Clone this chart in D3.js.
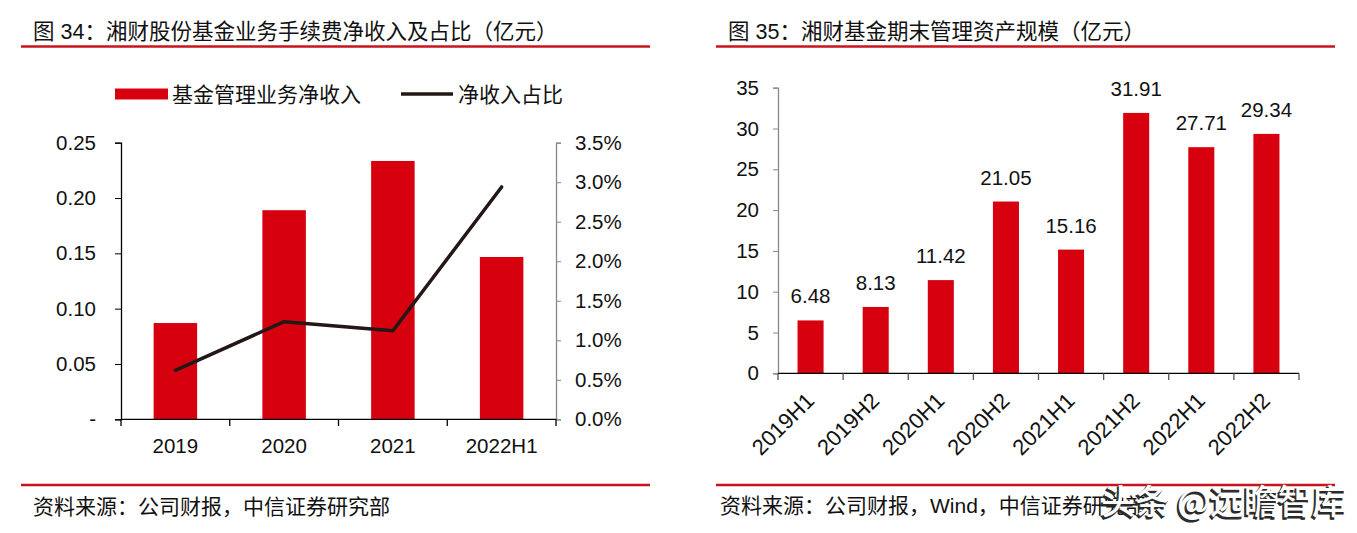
<!DOCTYPE html>
<html><head><meta charset="utf-8">
<script src="https://cdn.jsdelivr.net/npm/d3@7"></script>
<style>
html,body{margin:0;padding:0;background:#fff;}
svg{display:block;font-family:"Liberation Sans",Arial,"Noto Sans CJK SC",sans-serif;}
</style></head>
<body>
<svg id="c" width="1357" height="533"></svg>
<script>
// ---- Data: chart 1 ----
const cats1 = ["2019","2020","2021","2022H1"];
const income = [0.087,0.189,0.2335,0.1467];
const share = [0.0062,0.01235,0.0112,0.0294];
const leftTicks = [0,0.05,0.10,0.15,0.20,0.25];
const leftTickLabels = ["-","0.05","0.10","0.15","0.20","0.25"];
const rightTicks = [0,0.005,0.01,0.015,0.02,0.025,0.03,0.035];
const rightTickLabels = ["0.0%","0.5%","1.0%","1.5%","2.0%","2.5%","3.0%","3.5%"];
// ---- Data: chart 2 ----
const cats2 = ["2019H1","2019H2","2020H1","2020H2","2021H1","2021H2","2022H1","2022H2"];
const aum = [6.48,8.13,11.42,21.05,15.16,31.91,27.71,29.34];
const aumLabels = ["6.48","8.13","11.42","21.05","15.16","31.91","27.71","29.34"];
const aumTicks = [0,5,10,15,20,25,30,35];

const RED = "#D7000F", LINE = "#231815", TXT = "#111", RULE = "#C8141E";
const svg = d3.select("#c");

function header(x0, x1, title) {
  svg.append("text").attr("x", x0 + 12).attr("y", 39).attr("font-size", 21.5).attr("fill", TXT).text(title);
  svg.append("line").attr("x1", x0).attr("x2", x1).attr("y1", 46.5).attr("y2", 46.5).attr("stroke", RULE).attr("stroke-width", 2.5);
  svg.append("line").attr("x1", x0).attr("x2", x1).attr("y1", 485).attr("y2", 485).attr("stroke", RULE).attr("stroke-width", 2.5);
}

// ================= Chart 1 =================
header(21, 650, "图 34：湘财股份基金业务手续费净收入及占比（亿元）");
svg.append("text").attr("x", 33).attr("y", 514).attr("font-size", 21).attr("fill", TXT).text("资料来源：公司财报，中信证券研究部");

const x1 = d3.scaleBand().domain(cats1).range([121, 556]).paddingInner(0.6).paddingOuter(0.3);
const yL = d3.scaleLinear().domain([0, 0.25]).range([419.3, 142.7]);
const yR = d3.scaleLinear().domain([0, 0.035]).range([419.3, 142.7]);

svg.append("g").selectAll("rect").data(cats1).join("rect")
  .attr("x", d => x1(d)).attr("width", x1.bandwidth())
  .attr("y", (d, i) => yL(income[i])).attr("height", (d, i) => yL(0) - yL(income[i]))
  .attr("fill", RED);

// left axis
const gL = svg.append("g").attr("transform", "translate(121,0)")
  .call(d3.axisLeft(yL).tickValues(leftTicks).tickSize(6).tickPadding(19).tickFormat((d, i) => leftTickLabels[i]));
gL.select(".domain").attr("stroke", "#000").attr("stroke-width", 1.3);
gL.selectAll(".tick line").attr("stroke", "#000");
gL.selectAll("text").attr("font-size", 20.5).attr("fill", TXT).attr("font-family", "Liberation Sans, Arial");

// right axis
const gR = svg.append("g").attr("transform", "translate(556,0)")
  .call(d3.axisRight(yR).tickValues(rightTicks).tickSize(5).tickPadding(14).tickFormat((d, i) => rightTickLabels[i]));
gR.select(".domain").attr("stroke", "#888").attr("stroke-width", 1.3);
gR.selectAll(".tick line").attr("stroke", "#888");
gR.selectAll("text").attr("font-size", 20.5).attr("fill", TXT).attr("font-family", "Liberation Sans, Arial");

// bottom axis
const step1 = x1.step();
const bounds1 = d3.range(cats1.length + 1).map(i => x1(cats1[0]) - step1 * 0.3 + i * step1);
const gB = svg.append("g");
gB.append("line").attr("x1", 121).attr("x2", 556).attr("y1", 419.3).attr("y2", 419.3).attr("stroke", "#000").attr("stroke-width", 1.3);
gB.selectAll("line.t").data(bounds1).join("line").attr("class", "t")
  .attr("x1", d => d).attr("x2", d => d).attr("y1", 419.3).attr("y2", 426).attr("stroke", "#000").attr("stroke-width", 1.3);
gB.selectAll("text").data(cats1).join("text")
  .attr("x", d => x1(d) + x1.bandwidth() / 2).attr("y", 452.5).attr("text-anchor", "middle")
  .attr("font-size", 20.5).attr("fill", TXT).text(d => d);

// line
const line = d3.line().x((d, i) => x1(cats1[i]) + x1.bandwidth() / 2).y(d => yR(d));
svg.append("path").datum(share).attr("d", line).attr("fill", "none")
  .attr("stroke", LINE).attr("stroke-width", 3.5).attr("stroke-linecap", "round").attr("stroke-linejoin", "round");

// legend
svg.append("rect").attr("x", 115).attr("y", 88.5).attr("width", 53).attr("height", 11).attr("fill", RED);
svg.append("text").attr("x", 172).attr("y", 101.5).attr("font-size", 21).attr("fill", TXT).text("基金管理业务净收入");
svg.append("line").attr("x1", 401).attr("x2", 453).attr("y1", 94).attr("y2", 94).attr("stroke", LINE).attr("stroke-width", 3.5);
svg.append("text").attr("x", 458).attr("y", 101.5).attr("font-size", 21).attr("fill", TXT).text("净收入占比");

// ================= Chart 2 =================
header(716, 1335, "图 35：湘财基金期末管理资产规模（亿元）");
svg.append("text").attr("x", 720).attr("y", 513).attr("font-size", 21).attr("fill", TXT).text("资料来源：公司财报，Wind，中信证券研究部");

const x2 = d3.scaleBand().domain(cats2).range([778, 1299]).paddingInner(0.6).paddingOuter(0.3);
const y2 = d3.scaleLinear().domain([0, 35]).range([373.3, 87.7]);

svg.append("g").selectAll("rect").data(cats2).join("rect")
  .attr("x", d => x2(d)).attr("width", x2.bandwidth())
  .attr("y", (d, i) => y2(aum[i])).attr("height", (d, i) => y2(0) - y2(aum[i]))
  .attr("fill", RED);

svg.append("g").selectAll("text").data(cats2).join("text")
  .attr("x", d => x2(d) + x2.bandwidth() / 2).attr("y", (d, i) => y2(aum[i]) - 17)
  .attr("text-anchor", "middle").attr("font-size", 20.5).attr("fill", TXT).text((d, i) => aumLabels[i]);

const g2L = svg.append("g").attr("transform", "translate(778,0)")
  .call(d3.axisLeft(y2).tickValues(aumTicks).tickSize(5).tickPadding(14));
g2L.select(".domain").attr("stroke", "#888").attr("stroke-width", 1.3);
g2L.selectAll(".tick line").attr("stroke", "#888");
g2L.selectAll("text").attr("font-size", 20.5).attr("fill", TXT).attr("font-family", "Liberation Sans, Arial");

const step2 = x2.step();
const bounds2 = d3.range(cats2.length + 1).map(i => x2(cats2[0]) - step2 * 0.3 + i * step2);
const g2B = svg.append("g");
g2B.append("line").attr("x1", 778).attr("x2", 1299).attr("y1", 373.3).attr("y2", 373.3).attr("stroke", "#000").attr("stroke-width", 1.3);
g2B.selectAll("line.t").data(bounds2).join("line").attr("class", "t")
  .attr("x1", d => d).attr("x2", d => d).attr("y1", 373.3).attr("y2", 380).attr("stroke", "#555").attr("stroke-width", 1.3);
g2B.selectAll("text").data(cats2).join("text")
  .attr("transform", d => `translate(${x2(d) + x2.bandwidth() / 2 + 5},402) rotate(-45)`)
  .attr("text-anchor", "end").attr("font-size", 22).attr("fill", TXT).text(d => d);

// watermark
const wm = svg.append("g").attr("font-size", 34).attr("font-weight", 500).attr("text-anchor", "end").attr("font-family", "Noto Sans CJK SC, sans-serif");
wm.append("text").attr("x", 1344.5).attr("y", 515.5).attr("fill", "#2a2a2a").attr("stroke", "#2a2a2a").attr("stroke-width", 1.2).text("头条 @远瞻智库");
wm.append("text").attr("x", 1346).attr("y", 514).attr("fill", "#fff").text("头条 @远瞻智库");
</script>
</body></html>
